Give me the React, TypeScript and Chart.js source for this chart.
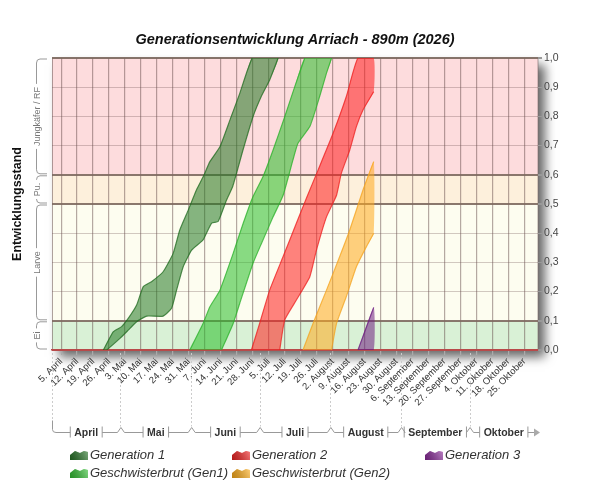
import React, { useEffect, useRef } from 'react';
import { Chart, registerables } from 'chart.js';

Chart.register(...registerables);

// Tag 0 = 1. April 2026
const weekTickLabels = [
  '5. April', '12. April', '19. April', '26. April',
  '3. Mai', '10. Mai', '17. Mai', '24. Mai', '31. Mai',
  '7. Juni', '14. Juni', '21. Juni', '28. Juni',
  '5. Juli', '12. Juli', '19. Juli', '26. Juli',
  '2. August', '9. August', '16. August', '23. August', '30. August',
  '6. September', '13. September', '20. September', '27. September',
  '4. Oktober', '11. Oktober', '18. Oktober', '25. Oktober',
];
const firstTickDay = 4;

const monthNames = ['April', 'Mai', 'Juni', 'Juli', 'August', 'September', 'Oktober'];
const monthStartDays = [0, 30, 61, 91, 122, 153, 183];
const seasonEndDay = 213;

const stageNames = ['Ei', 'Larve', 'Pu.', 'Jungkäfer / RF'];
const stageBounds = [0, 0.1, 0.5, 0.6, 1.0];
const stageColors = ['#d9f1d6', '#fdfdf0', '#fdf0dc', '#fddcdd'];

// [Tag, Entwicklungsstand]
const gen1Early = [[22.5, 0], [26.9, 0.063], [30.5, 0.08], [33.4, 0.108], [37.1, 0.154], [40, 0.217], [43.6, 0.234], [48.7, 0.268], [53.1, 0.331], [56, 0.411], [59.7, 0.479], [63.3, 0.548], [66.3, 0.594], [69.2, 0.645], [73.6, 0.696], [78, 0.788], [82.3, 0.879], [85.2, 0.948], [87.7, 1.0]];
const gen1Late = [[24, 0], [29.8, 0.04], [33.4, 0.068], [37.1, 0.097], [41.5, 0.116], [48.7, 0.116], [52.4, 0.143], [54.6, 0.205], [57.5, 0.285], [61.2, 0.342], [66.2, 0.377], [69.9, 0.434], [72.8, 0.44], [76.5, 0.514], [79.2, 0.56], [83.7, 0.685], [88.1, 0.799], [91.7, 0.868], [95.4, 0.925], [99.1, 1.0]];

const sib1Early = [[60.4, 0], [66.2, 0.091], [69.2, 0.148], [73.6, 0.205], [79.4, 0.331], [83.8, 0.434], [87.8, 0.52], [92.5, 0.594], [96.9, 0.685], [102, 0.799], [106.4, 0.902], [110.8, 1.0]];
const sib1Late = [[74.3, 0], [79.4, 0.091], [82.3, 0.16], [88.1, 0.297], [91.8, 0.365], [96.9, 0.456], [101.3, 0.53], [105.6, 0.651], [107.8, 0.708], [113, 0.765], [117.3, 0.868], [120.3, 0.948], [122.5, 1.0]];

const gen2Early = [[87.4, 0], [91, 0.091], [95.4, 0.205], [101.3, 0.32], [107.1, 0.434], [111.5, 0.52], [116.6, 0.616], [123.2, 0.742], [129, 0.868], [134.1, 1.0], [141, 1.0]];
const gen2Late = [[99.8, 0], [102, 0.103], [107.1, 0.171], [113, 0.251], [115.9, 0.342], [120.3, 0.456], [124.7, 0.53], [126.8, 0.605], [130.5, 0.685], [133.4, 0.765], [136.3, 0.822], [141, 0.885]];

const sib2Early = [[110, 0], [114.4, 0.091], [120.3, 0.205], [126.1, 0.32], [130.5, 0.411], [136.3, 0.548], [141, 0.645]];
const sib2Late = [[122.5, 0], [124.7, 0.091], [129, 0.183], [133.4, 0.285], [137.8, 0.354], [141, 0.40]];

const gen3Early = [[134.1, 0], [141, 0.146]];
const gen3Late = [[134.1, 0], [141, 0]];

const seriesNames = ['Generation 1', 'Geschwisterbrut (Gen1)', 'Generation 2', 'Geschwisterbrut (Gen2)', 'Generation 3'];
const seriesEarly = [gen1Early, sib1Early, gen2Early, sib2Early, gen3Early];
const seriesLate = [gen1Late, sib1Late, gen2Late, sib2Late, gen3Late];
const fillColors = ['rgba(34,120,34,0.55)', 'rgba(40,190,40,0.55)', 'rgba(255,30,30,0.55)', 'rgba(255,170,30,0.55)', 'rgba(110,30,130,0.55)'];
const lineColors = ['rgba(30,100,30,0.75)', 'rgba(40,170,40,0.75)', 'rgba(230,30,30,0.75)', 'rgba(240,160,30,0.75)', 'rgba(110,30,130,0.75)'];
const legendColors = ['#267326', '#33c033', '#f02020', '#ffae1a', '#8a2a9a'];

const toPoints = (arr: number[][]) => arr.map(([x, y]) => ({ x, y }));
const band = (early: number[][], late: number[][]) => toPoints([...early, ...late.slice().reverse()]);

const isMajor = (v: number) => stageBounds.some((b) => Math.abs(b - v) < 1e-6);

const decorPlugin = {
  id: 'decor',
  beforeDraw(chart: any) {
    const { ctx, chartArea: a } = chart;
    const ys = chart.scales.y;
    ctx.save();
    ctx.shadowColor = 'rgba(0,0,0,0.6)';
    ctx.shadowBlur = 10;
    ctx.shadowOffsetX = 7;
    ctx.shadowOffsetY = 7;
    ctx.fillStyle = '#fff';
    ctx.fillRect(a.left, a.top, a.right - a.left, a.bottom - a.top);
    ctx.restore();
    stageColors.forEach((c, i) => {
      const top = ys.getPixelForValue(stageBounds[i + 1]);
      const bot = ys.getPixelForValue(stageBounds[i]);
      ctx.fillStyle = c;
      ctx.fillRect(a.left, top, a.right - a.left, bot - top);
    });
    ctx.strokeStyle = 'rgba(120,100,100,0.6)';
    ctx.lineWidth = 1;
    ctx.strokeRect(a.left + 0.5, a.top, a.right - a.left - 0.5, a.bottom - a.top);
  },
  afterDraw(chart: any) {
    const { ctx, chartArea: a } = chart;
    const xs = chart.scales.x;
    const ys = chart.scales.y;
    ctx.save();

    // Titel
    ctx.fillStyle = '#111';
    ctx.font = 'italic bold 14.5px "Liberation Sans"';
    ctx.textAlign = 'center';
    ctx.textBaseline = 'middle';
    ctx.fillText('Generationsentwicklung Arriach - 890m (2026)', (a.left + a.right) / 2, a.top - 18);

    // Achsentitel links
    ctx.save();
    ctx.translate(18, (a.top + a.bottom) / 2);
    ctx.rotate(-Math.PI / 2);
    ctx.font = 'bold 12.5px "Liberation Sans"';
    ctx.fillStyle = '#111';
    ctx.fillText('Entwicklungsstand', 0, 0);
    ctx.restore();

    // Stadien-Klammern
    ctx.font = '9px "Liberation Sans"';
    ctx.strokeStyle = '#999';
    ctx.lineWidth = 1;
    const bx = 36.5;
    stageNames.forEach((name, i) => {
      const yTop = ys.getPixelForValue(stageBounds[i + 1]) + 1;
      const yBot = ys.getPixelForValue(stageBounds[i]) - 1;
      const yc = (yTop + yBot) / 2;
      const half = ctx.measureText(name).width / 2 + 3;
      ctx.beginPath();
      ctx.moveTo(47, yTop);
      ctx.lineTo(40, yTop);
      ctx.quadraticCurveTo(bx, yTop, bx, yTop + 4);
      ctx.lineTo(bx, Math.max(yTop + 4, yc - half));
      ctx.moveTo(bx, Math.min(yBot - 4, yc + half));
      ctx.lineTo(bx, yBot - 4);
      ctx.quadraticCurveTo(bx, yBot, 40, yBot);
      ctx.lineTo(47, yBot);
      ctx.stroke();
      ctx.save();
      ctx.translate(bx + 1, yc);
      ctx.rotate(-Math.PI / 2);
      ctx.fillStyle = '#777';
      ctx.fillText(name, 0, 0);
      ctx.restore();
    });

    // Monatszeile
    const rowY = a.bottom + 82.5;
    ctx.setLineDash([2, 2]);
    ctx.strokeStyle = '#ccc';
    monthStartDays.forEach((d, i) => {
      const x = Math.round(xs.getPixelForValue(d)) + 0.5;
      ctx.beginPath();
      ctx.moveTo(x, a.bottom + 3);
      ctx.lineTo(x, i === 0 ? rowY - 12 : rowY - 6);
      ctx.stroke();
    });
    ctx.setLineDash([]);
    ctx.strokeStyle = '#999';
    ctx.font = 'bold 10.5px "Liberation Sans"';
    ctx.fillStyle = '#333';
    monthNames.forEach((name, i) => {
      const x0 = xs.getPixelForValue(monthStartDays[i]);
      const last = i === monthNames.length - 1;
      const x1 = xs.getPixelForValue(last ? seasonEndDay : monthStartDays[i + 1]);
      const cx = (x0 + x1) / 2;
      const w = ctx.measureText(name).width;
      const l = cx - w / 2 - 4;
      const r = cx + w / 2 + 4;
      ctx.beginPath();
      if (i === 0) {
        ctx.moveTo(x0 + 0.5, rowY - 12);
        ctx.lineTo(x0 + 0.5, rowY - 3);
        ctx.quadraticCurveTo(x0 + 0.5, rowY, x0 + 4, rowY);
      } else {
        ctx.moveTo(x0 - 3, rowY);
        ctx.lineTo(x0 + 0.5, rowY - 5);
        ctx.lineTo(x0 + 4, rowY);
      }
      ctx.lineTo(l, rowY);
      ctx.moveTo(l, rowY - 6);
      ctx.lineTo(l, rowY + 5);
      ctx.moveTo(r, rowY - 6);
      ctx.lineTo(r, rowY + 5);
      ctx.moveTo(r, rowY);
      ctx.lineTo(last ? x1 - 4 : x1 - 3, rowY);
      ctx.stroke();
      if (last) {
        ctx.fillStyle = '#aaa';
        ctx.beginPath();
        ctx.moveTo(x1 - 4, rowY - 4);
        ctx.lineTo(x1 + 2, rowY);
        ctx.lineTo(x1 - 4, rowY + 4);
        ctx.closePath();
        ctx.fill();
        ctx.fillStyle = '#333';
      }
      ctx.fillText(name, cx, rowY + 0.5);
    });

    // Legende
    const colX = [70, 232, 425];
    const rowYs = [455, 473];
    ctx.font = 'italic 13px "Liberation Sans"';
    ctx.textAlign = 'left';
    seriesNames.forEach((name, i) => {
      const x = colX[Math.floor(i / 2)];
      const y = rowYs[i % 2];
      ctx.beginPath();
      ctx.moveTo(x, y + 5);
      ctx.lineTo(x, y);
      ctx.lineTo(x + 5, y - 4);
      ctx.lineTo(x + 10, y - 2);
      ctx.lineTo(x + 14, y - 4);
      ctx.lineTo(x + 18, y - 3);
      ctx.lineTo(x + 18, y + 5);
      ctx.closePath();
      ctx.fillStyle = legendColors[i];
      ctx.fill();
      const g = ctx.createLinearGradient(x, y + 5, x + 18, y - 4);
      g.addColorStop(0, 'rgba(0,0,0,0.25)');
      g.addColorStop(1, 'rgba(255,255,255,0.4)');
      ctx.fillStyle = g;
      ctx.fill();
      ctx.fillStyle = '#333';
      ctx.fillText(name, x + 20, y + 0.5);
    });
    ctx.restore();
  },
};

const App = () => {
  const canvasRef = useRef<HTMLCanvasElement>(null);

  useEffect(() => {
    document.body.style.margin = '0';
    if (!canvasRef.current) return;

    const datasets: any[] = [];
    seriesNames.forEach((name, i) => {
      // Fläche zwischen frühester und spätester Entwicklung
      datasets.push({
        label: name,
        data: band(seriesEarly[i], seriesLate[i]),
        backgroundColor: fillColors[i],
        borderWidth: 0,
        pointRadius: 0,
        fill: 'shape',
        tension: 0.15,
      });
      // Ränder
      [seriesEarly[i], seriesLate[i]].forEach((edge) => {
        datasets.push({
          label: name,
          data: toPoints(edge),
          borderColor: lineColors[i],
          borderWidth: 1.2,
          pointRadius: 0,
          fill: false,
          tension: 0.15,
        });
      });
    });

    const chart = new Chart(canvasRef.current, {
      type: 'line',
      data: { datasets },
      plugins: [decorPlugin],
      options: {
        responsive: false,
        animation: false,
        events: [],
        layout: { padding: { left: 52, top: 58, right: 0, bottom: 0 } },
        plugins: {
          legend: { display: false },
          tooltip: { enabled: false },
          title: { display: false },
        },
        scales: {
          x: {
            type: 'linear',
            min: 0,
            max: seasonEndDay,
            afterBuildTicks: (s: any) => {
              s.ticks = weekTickLabels.map((_, i) => ({ value: firstTickDay + 7 * i }));
            },
            afterFit: (s: any) => {
              s.height = 150;
            },
            ticks: {
              autoSkip: false,
              minRotation: 45,
              maxRotation: 45,
              padding: 1,
              color: '#333',
              font: { family: 'Liberation Sans', size: 9.5 },
              callback: (_v: any, i: number) => weekTickLabels[i],
            },
            grid: {
              color: 'rgba(90,65,65,0.45)',
              lineWidth: 1.2,
              tickColor: '#aaa',
              tickLength: 5,
            },
            border: { display: true, color: '#b84a4a', width: 1.5 },
          },
          y: {
            position: 'right',
            min: 0,
            max: 1,
            afterFit: (s: any) => {
              s.width = 62;
            },
            ticks: {
              stepSize: 0.1,
              padding: 2,
              color: '#444',
              font: { family: 'Liberation Sans', size: 10.5 },
              callback: (v: any) => Number(v).toFixed(1).replace('.', ','),
            },
            grid: {
              color: (c: any) => {
                const v = c.tick ? c.tick.value : 0;
                if (Math.abs(v) < 1e-6) return '#b84a4a';
                return isMajor(v) ? 'rgba(125,105,95,0.9)' : 'rgba(110,80,80,0.3)';
              },
              lineWidth: (c: any) => {
                const v = c.tick ? c.tick.value : 0;
                return isMajor(v) ? 2 : 1;
              },
              tickColor: '#999',
              tickLength: 4,
            },
            border: { display: false },
          },
        },
      },
    } as any);

    return () => {
      chart.destroy();
    };
  }, []);

  return (
    <div style={{ width: 600, height: 500 }}>
      <canvas ref={canvasRef} width={600} height={500} />
    </div>
  );
};

export default App;
